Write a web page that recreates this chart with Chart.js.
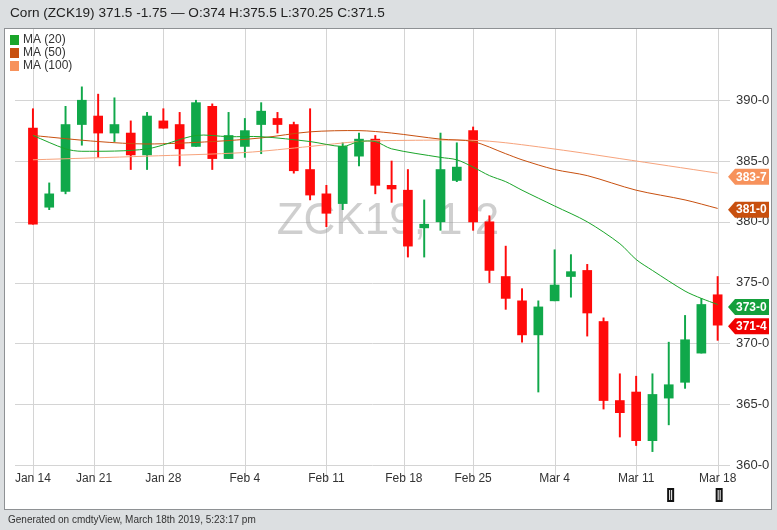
<!DOCTYPE html>
<html>
<head>
<meta charset="utf-8">
<script src="https://cdn.jsdelivr.net/npm/chart.js@4"></script>
<style>
  html, body { margin: 0; padding: 0; background: #dcdfe1; }
  #wrap { position: relative; width: 777px; height: 530px; }
</style>
</head>
<body>
<div id="wrap"><canvas id="chart" width="777" height="530"></canvas></div>
<script>
const opens  = [387.7, 381.2, 382.5, 388.0, 388.7, 387.3, 387.3, 385.5, 388.3, 388.0, 386.2, 389.5, 385.2, 386.2,
                388.0, 388.5, 388.0, 384.3, 382.3, 381.5, 385.4, 386.8, 383.0, 382.6, 379.5, 380.0, 383.4, 387.5,
                380.0, 375.5, 373.5, 370.7, 373.5, 375.6, 376.0, 371.8, 365.3, 366.0, 362.0, 365.5, 366.8, 369.2, 374.0];
const highs  = [389.3, 383.2, 389.5, 391.1, 390.5, 390.2, 388.3, 389.0, 389.3, 389.0, 390.0, 389.7, 389.0, 388.5,
                389.8, 389.0, 388.2, 389.3, 383.0, 386.5, 387.3, 387.1, 385.0, 384.3, 381.8, 387.3, 386.5, 387.8,
                380.5, 378.0, 374.5, 373.5, 377.7, 377.3, 376.5, 372.1, 367.5, 367.3, 367.5, 370.1, 372.3, 373.7, 375.5];
const lows   = [379.8, 381.0, 382.3, 386.3, 385.3, 386.6, 384.3, 384.3, 387.7, 384.6, 386.2, 384.3, 385.2, 385.3,
                385.6, 387.3, 384.0, 381.8, 379.6, 381.0, 384.6, 382.3, 381.6, 377.1, 377.1, 379.3, 383.3, 379.3,
                375.0, 372.8, 370.1, 366.0, 373.5, 373.8, 370.6, 364.6, 362.3, 361.6, 361.1, 363.3, 366.3, 369.2, 370.25];
const closes = [379.8, 382.3, 388.0, 390.0, 387.3, 388.0, 385.5, 388.7, 387.7, 386.0, 389.8, 385.2, 387.1, 387.5,
                389.1, 388.0, 384.2, 382.2, 380.7, 386.2, 386.8, 383.0, 382.7, 378.0, 379.8, 384.3, 384.5, 380.0,
                376.0, 373.7, 370.7, 373.0, 374.8, 375.8, 372.5, 365.3, 364.3, 362.0, 365.8, 366.6, 370.3, 373.2, 371.5];

// moving averages: [session index, value]
const ma20  = [[0, 387.1], [2, 386.0], [3, 385.8], [7, 386.0], [10, 387.1], [12, 387.0], [14, 387.0], [17, 386.6],
               [19, 386.2], [20, 386.6], [21, 386.6], [22, 386.0], [25, 385.3], [26, 385.1], [27, 384.5], [28, 383.8],
               [29, 383.3], [30, 382.6], [32, 381.3], [34, 380.0], [36, 378.2], [37, 376.9], [38, 376.0], [40, 374.3],
               [41, 373.7], [42, 373.2]];
const ma50  = [[0, 387.1], [4, 386.6], [7, 386.4], [11, 386.6], [14, 386.9], [17, 387.4], [20, 387.5], [22, 387.3],
               [25, 386.8], [27, 386.6], [29, 385.6], [30, 385.1], [32, 384.3], [34, 383.8], [37, 382.6], [40, 381.8],
               [42, 381.1]];
const ma100 = [[0, 385.1], [7, 385.4], [13, 385.7], [17, 386.2], [20, 386.6], [23, 386.7], [27, 386.7], [29, 386.5],
               [33, 385.8], [36, 385.2], [39, 384.6], [42, 384.0]];

// date ticks at session positions
const tickPos    = [0, 3.75, 8, 13, 18, 22.75, 27, 32, 37, 42];
const tickLabels = ['Jan 14', 'Jan 21', 'Jan 28', 'Feb 4', 'Feb 11', 'Feb 18', 'Feb 25', 'Mar 4', 'Mar 11', 'Mar 18'];
const yTicks     = [360, 365, 370, 375, 380, 385, 390];

// last values shown on the right edge
const lastTags = [
  { value: 383.7, text: '383-7', color: '#f7925c' },
  { value: 381.0, text: '381-0', color: '#c8500f' },
  { value: 373.0, text: '373-0', color: '#14a03c' },
  { value: 371.4, text: '371-4', color: '#f00000' }
];

const GREEN = '#10a84a';
const RED = '#ff0a0a';
const FONT = '"Liberation Sans", Arial, sans-serif';

const candleColors = opens.map((o, i) => closes[i] >= o ? GREEN : RED);
const bodies = opens.map((o, i) => {
  let lo = Math.min(o, closes[i]), hi = Math.max(o, closes[i]);
  if (hi - lo < 0.2) { hi += 0.1; lo -= 0.1; }
  return { x: i, y: [lo, hi] };
});
const wicks = highs.map((h, i) => ({ x: i, y: [lows[i], h] }));
const toXY = arr => arr.map(p => ({ x: p[0], y: p[1] }));

const decor = {
  id: 'decor',
  beforeDraw(chart) {
    const c = chart.ctx, a = chart.chartArea;
    const xs = chart.scales.x, ys = chart.scales.y;
    c.save();
    c.fillStyle = '#dcdfe1';
    c.fillRect(0, 0, 777, 530);
    c.fillStyle = '#fff';
    c.fillRect(5, 29, 767, 481);
    c.strokeStyle = '#8e9194';
    c.lineWidth = 1;
    c.strokeRect(4.5, 28.5, 767, 481);
    // title and footer
    c.fillStyle = '#222';
    c.font = '13.6px ' + FONT;
    c.textBaseline = 'middle';
    c.fillText('Corn (ZCK19) 371.5 -1.75 \u2014 O:374 H:375.5 L:370.25 C:371.5', 10, 13);
    c.fillStyle = '#333';
    c.font = '10px ' + FONT;
    c.fillText('Generated on cmdtyView, March 18th 2019, 5:23:17 pm', 8, 520);
    // grid
    c.strokeStyle = '#d4d4d4';
    tickPos.forEach(t => {
      const px = Math.round(xs.getPixelForValue(t)) + 0.5;
      c.beginPath(); c.moveTo(px, 29); c.lineTo(px, a.bottom + 8); c.stroke();
    });
    yTicks.forEach(v => {
      const py = Math.round(ys.getPixelForValue(v)) + 0.5;
      c.beginPath(); c.moveTo(a.left, py); c.lineTo(a.right + 5, py); c.stroke();
    });
    // tick labels
    c.fillStyle = '#333';
    c.font = '12px ' + FONT;
    c.textAlign = 'center';
    tickPos.forEach((t, i) => c.fillText(tickLabels[i], xs.getPixelForValue(t), 479));
    c.textAlign = 'left';
    c.font = '13px ' + FONT;
    yTicks.forEach(v => c.fillText(v + '-0', 736, ys.getPixelForValue(v)));
    // watermark
    c.fillStyle = 'rgba(160,160,160,0.5)';
    c.font = '44px ' + FONT;
    c.textAlign = 'center';
    c.fillText('ZCK19, 1 2', 388, 222);
    c.restore();
  },
  afterDraw(chart) {
    const c = chart.ctx, ys = chart.scales.y, xs = chart.scales.x;
    c.save();
    // legend
    const legend = [['MA (20)', '#1aa52a'], ['MA (50)', '#c8500f'], ['MA (100)', '#f7925c']];
    c.font = '12px ' + FONT;
    c.textBaseline = 'middle';
    legend.forEach((l, i) => {
      const y = 40 + i * 13;
      c.fillStyle = l[1];
      c.fillRect(10, y - 5, 9, 10);
      c.fillStyle = '#333';
      c.fillText(l[0], 23, y);
    });
    // last-value tags
    c.font = 'bold 12px ' + FONT;
    lastTags.forEach(t => {
      const y = ys.getPixelForValue(t.value);
      c.fillStyle = t.color;
      c.beginPath();
      c.moveTo(728, y);
      c.lineTo(735, y - 8);
      c.lineTo(769, y - 8);
      c.lineTo(769, y + 8);
      c.lineTo(735, y + 8);
      c.closePath();
      c.fill();
      c.fillStyle = '#fff';
      c.textAlign = 'left';
      c.fillText(t.text, 736, y + 0.5);
    });
    // pause markers
    [37, 42].forEach(t => {
      const px = xs.getPixelForValue(t) + (t === 37 ? 34 : 1);
      c.fillStyle = '#111';
      c.fillRect(px - 3, 488, 7, 14);
      c.fillStyle = '#fff';
      c.fillRect(px - 1, 490, 1, 10);
      c.fillRect(px + 1, 490, 1, 10);
    });
    c.restore();
  }
};

new Chart(document.getElementById('chart'), {
  type: 'bar',
  data: {
    datasets: [
      { type: 'line', data: toXY(ma100), borderColor: '#f7a37c', borderWidth: 1, pointRadius: 0, tension: 0.3, order: 3 },
      { type: 'line', data: toXY(ma50), borderColor: '#c8500f', borderWidth: 1, pointRadius: 0, tension: 0.3, order: 2 },
      { type: 'line', data: toXY(ma20), borderColor: '#1aa52a', borderWidth: 1, pointRadius: 0, tension: 0.3, order: 1 },
      { data: wicks, backgroundColor: candleColors, barThickness: 1.3, grouped: false, order: 5 },
      { data: bodies, backgroundColor: candleColors, barThickness: 9, grouped: false, order: 4 }
    ]
  },
  options: {
    responsive: false,
    animation: false,
    layout: { padding: { left: 15, right: 52, top: 37, bottom: 57 } },
    plugins: { legend: { display: false }, tooltip: { enabled: false } },
    scales: {
      x: { type: 'linear', min: -1.1, max: 42.45, offset: false, display: false },
      y: { type: 'linear', min: 359.34, max: 395.2, display: false }
    }
  },
  plugins: [decor]
});
</script>
</body>
</html>
